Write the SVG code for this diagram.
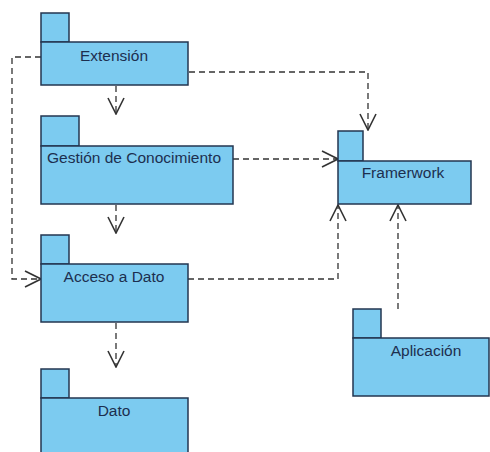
<svg xmlns="http://www.w3.org/2000/svg" width="490" height="452" viewBox="0 0 490 452">
<defs>
<style>
.pk{fill:#7ccbf0;stroke:#233650;stroke-width:1.5}
.lb{font-family:"Liberation Sans",Arial,sans-serif;font-size:15.5px;fill:#1c2f4f;text-anchor:middle}
.dep{fill:none;stroke:#333;stroke-width:1.3;stroke-dasharray:6,4}
</style>
<marker id="open" viewBox="0 0 18 18" refX="17" refY="9" markerWidth="18" markerHeight="18" markerUnits="userSpaceOnUse" orient="auto">
<path d="M1,1 L17,9 L1,17" fill="none" stroke="#333" stroke-width="1.6"/>
</marker>
</defs>
<rect width="490" height="452" fill="#fff"/>
<g id="connectors">
<polyline class="dep" points="41,57 12,57 12,279 41,279" marker-end="url(#open)"/>
<polyline class="dep" points="189,72 368,72 368,130" marker-end="url(#open)"/>
<line class="dep" x1="116" y1="86" x2="116" y2="114" marker-end="url(#open)"/>
<line class="dep" x1="233" y1="159" x2="338" y2="159" marker-end="url(#open)"/>
<line class="dep" x1="116" y1="205" x2="116" y2="233" marker-end="url(#open)"/>
<polyline class="dep" points="188,279 338,279 338,205" marker-end="url(#open)"/>
<line class="dep" x1="116" y1="323" x2="116" y2="367" marker-end="url(#open)"/>
<line class="dep" x1="398" y1="309" x2="398" y2="205" marker-end="url(#open)"/>
</g>
<g id="extension">
<rect class="pk" x="41" y="13" width="28" height="29"/>
<rect class="pk" x="41" y="42" width="147" height="43"/>
<text class="lb" x="114" y="61">Extensión</text>
</g>
<g id="gestion">
<rect class="pk" x="41" y="116" width="38" height="30"/>
<rect class="pk" x="41" y="146" width="192" height="58"/>
<text class="lb" x="134" y="163">Gestión de Conocimiento</text>
</g>
<g id="framerwork">
<rect class="pk" x="338" y="131" width="25" height="30"/>
<rect class="pk" x="338" y="161" width="133" height="43"/>
<text class="lb" x="403" y="178">Framerwork</text>
</g>
<g id="acceso">
<rect class="pk" x="41" y="235" width="28" height="29"/>
<rect class="pk" x="41" y="264" width="147" height="58"/>
<text class="lb" x="114" y="282">Acceso a Dato</text>
</g>
<g id="dato">
<rect class="pk" x="41" y="369" width="28" height="29"/>
<path class="pk" d="M41,460 L41,398 L188,398 L188,460"/>
<text class="lb" x="114" y="416">Dato</text>
</g>
<g id="aplicacion">
<rect class="pk" x="353" y="309" width="28" height="29"/>
<rect class="pk" x="353" y="338" width="136" height="58"/>
<text class="lb" x="426" y="356">Aplicación</text>
</g>
</svg>
